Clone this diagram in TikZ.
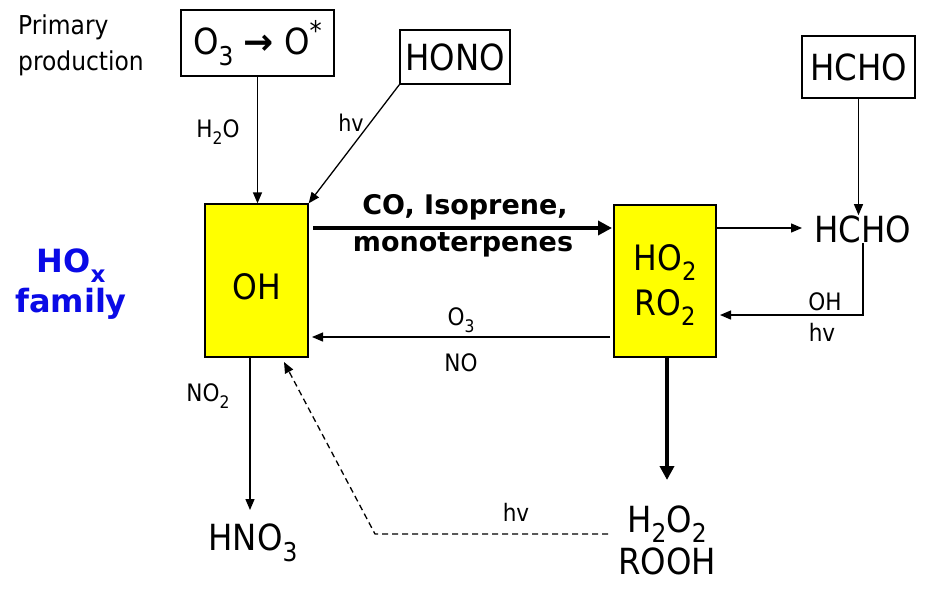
\documentclass[tikz,border=0pt]{standalone}
\usepackage{fontspec}
\setmainfont{DejaVu Sans Condensed}
\newfontfamily\widebold{DejaVu Sans}
\usetikzlibrary{arrows.meta,calc}
\definecolor{boxyellow}{RGB}{255,255,0}
\definecolor{hoxblue}{RGB}{10,10,230}
\newcommand{\sbx}[1]{\raisebox{-0.3em}{\scalebox{0.72}{#1}}}
\newcommand{\stx}[1]{\raisebox{0.4em}{\scalebox{0.75}{#1}}}
\newcommand{\fs}[2]{\fontsize{#1}{#2}\selectfont}
\tikzset{
  x=1pt,y=-1pt,
  plainbox/.style={draw,line width=1.3pt,inner sep=0pt,font=\fs{36}{36}},
  speciesbox/.style={draw,line width=1.3pt,fill=boxyellow,inner sep=0pt},
  big/.style={inner sep=0pt,font=\fs{36}{38},align=center},
  lbl/.style={inner sep=0pt,font=\fs{24}{24}},
  arr/.style={line width=1.3pt,-{Triangle[length=11pt,width=9pt]}},
  thickarr/.style={line width=4.5pt,-{Triangle[length=14pt,width=14pt]}},
  dasharr/.style={line width=1.3pt,dash pattern=on 6pt off 4pt,-{Triangle[length=11pt,width=9pt]}},
}
\begin{document}
\begin{tikzpicture}
\useasboundingbox (0,0) rectangle (925,591);
% boxes
\node[plainbox,minimum width=153,minimum height=66] (o3box) at (257.5,43) {O\sbx{3} {\widebold\bfseries →} O\stx{*}};
\node[plainbox,minimum width=110,minimum height=54] (hono) at (455,57) {HONO};
\node[plainbox,minimum width=113,minimum height=62] (hchob) at (858.5,67) {HCHO};
\node[speciesbox,minimum width=103,minimum height=153] (oh) at (256.5,280.5) {};
\node[big,font=\fs{35}{35}] (ohtext) at (257,287) {OH};
\node[speciesbox,minimum width=102,minimum height=152] (ho2) at (665,281) {};
\node[big,font=\fs{35}{45}] (ho2text) at (665,285) {HO\sbx{2}\\RO\sbx{2}};
\node[big] (hcho) at (863,229) {HCHO};
\node[big] (hno3) at (253,543) {HNO\sbx{3}};
\node[big,font=\fs{36}{42}] (h2o2) at (667,540) {H\sbx{2}O\sbx{2}\\ROOH};
% side texts
\node[inner sep=0pt,font=\fs{26}{36},align=left,anchor=west] (prim) at (18,45) {Primary\\production};
\node[inner sep=0pt,font=\widebold\fs{32}{40}\bfseries,text=hoxblue,align=center] (hox) at (71,284) {HO\sbx{x}\\family};
% coordinates
\coordinate (c1) at (313,228);
\coordinate (c2) at (612,228);
\coordinate (c3) at (716,228);
\coordinate (c4) at (802,228);
\coordinate (c5) at (863,315);
\coordinate (c6) at (720,315);
\coordinate (c7) at (610,337);
\coordinate (c8) at (312,337);
\coordinate (c9) at (250,357);
\coordinate (c10) at (250,510);
\coordinate (c11) at (667,357);
\coordinate (c12) at (667,480);
\coordinate (c13) at (608,534);
\coordinate (c14) at (375,534);
\coordinate (c15) at (284,362);
% connectors
\draw[arr] (o3box.south) -- (o3box.south |- oh.north);
\draw[arr] (hono.south west) -- (oh.north east);
\draw[thickarr] (c1) -- (c2);
\draw[arr] (c3) -- (c4);
\draw[arr] (hchob.south) -- (hchob.south |- hcho.north);
\draw[arr] (hcho.south -| c5) -- (c5) -- (c6);
\draw[arr] (c7) -- (c8);
\draw[arr] (c9) -- (c10);
\draw[thickarr] (c11) -- (c12);
\draw[dasharr] (c13) -- (c14) -- (c15);
% labels
\node[lbl] (l1) at (218,132) {H\sbx{2}O};
\node[lbl,font=\fs{23}{23}] (l2) at (351,123) {hv};
\node[inner sep=0pt,font=\widebold\fs{27}{27}\bfseries] (l3) at (465,207) {CO, Isoprene,};
\node[inner sep=0pt,font=\widebold\fs{27}{27}\bfseries] (l4) at (463,245) {monoterpenes};
\node[lbl] (l5) at (461,320) {O\sbx{3}};
\node[lbl] (l6) at (461,363) {NO};
\node[lbl] (l7) at (825,302) {OH};
\node[lbl] (l8) at (822,332) {hv};
\node[lbl] (l9) at (208,396) {NO\sbx{2}};
\node[lbl] (l10) at (516,512) {hv};
\end{tikzpicture}
\end{document}
